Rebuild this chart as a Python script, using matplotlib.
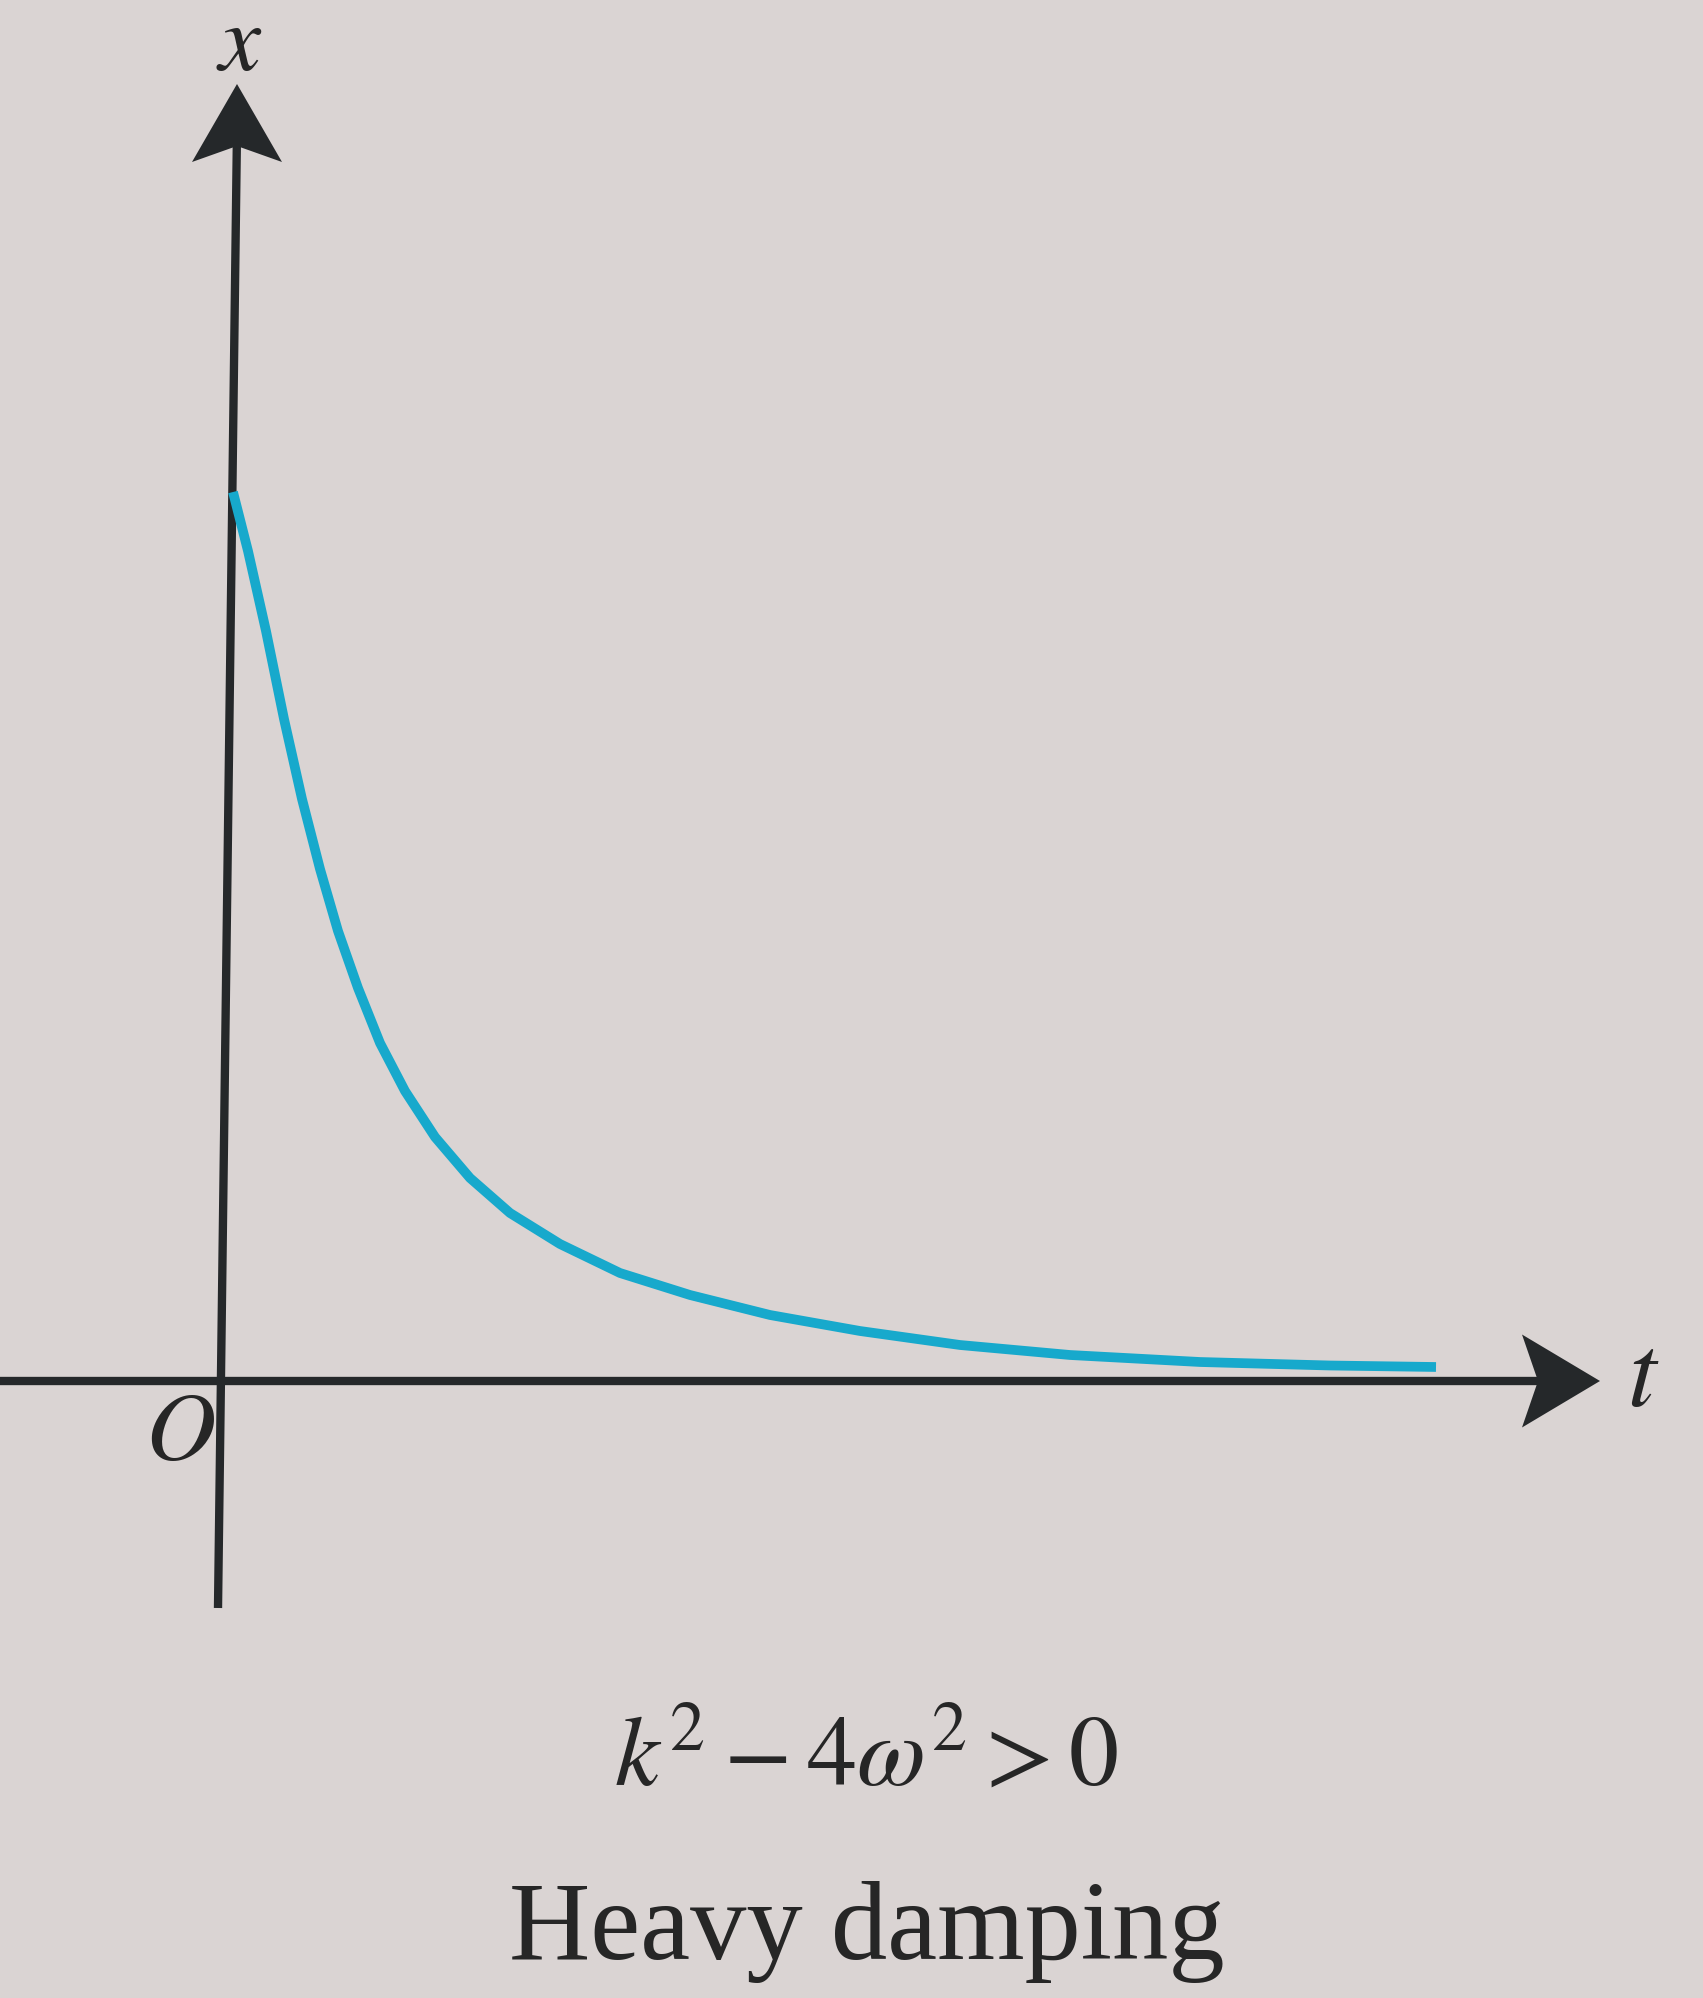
import matplotlib.pyplot as plt
from matplotlib.patches import Polygon

# curve (t, x), arbitrary units
t_vals = [0.03, 0.18, 0.36, 0.54, 0.72, 0.90, 1.08, 1.28, 1.50, 1.75, 2.05, 2.40,
          2.80, 3.30, 3.90, 4.60, 5.40, 6.30, 7.30, 8.40, 9.70, 11.00, 12.06]
x_vals = [8.89, 8.30, 7.50, 6.62, 5.82, 5.12, 4.50, 3.93, 3.38, 2.90, 2.44, 2.03,
          1.68, 1.37, 1.08, 0.86, 0.66, 0.50, 0.36, 0.26, 0.19, 0.155, 0.14]

condition = r'$k^2 - 4\omega^2 > 0$'
caption = 'Heavy damping'

bg = '#dad4d3'
axis_col = '#25282a'
curve_col = '#17a9cc'
text_col = '#262626'

plt.rcParams['mathtext.fontset'] = 'stix'

fig = plt.figure(figsize=(17.03, 19.99), dpi=100)
fig.patch.set_facecolor(bg)
ax = fig.add_axes([0, 0, 1, 1])
ax.set_facecolor(bg)
ax.set_xlim(-2.30, 14.73)
ax.set_ylim(-6.17, 13.82)
ax.axis('off')

# axes with arrow heads (the vertical one leans a little, as in the print)
ax.plot([-2.5, 13.2], [0, 0], color=axis_col, lw=6, solid_capstyle='butt')
ax.plot([-0.12, 0.07], [-2.27, 12.5], color=axis_col, lw=6, solid_capstyle='butt')
ax.add_patch(Polygon([[13.70, 0], [12.92, 0.465], [13.08, 0], [12.92, -0.465]],
                     closed=True, color=axis_col, lw=0))
ax.add_patch(Polygon([[0.07, 12.97], [0.52, 12.19], [0.07, 12.35], [-0.38, 12.19]],
                     closed=True, color=axis_col, lw=0))

# heavy damping curve
ax.plot(t_vals, x_vals, color=curve_col, lw=7, solid_capstyle='butt',
        solid_joinstyle='round')

ax.text(0.09, 13.12, r'$x$', fontsize=68, color=text_col,
        ha='center', va='baseline')
ax.text(14.13, -0.24, r'$t$', fontsize=74, color=text_col,
        ha='center', va='baseline')
ax.text(-0.50, -0.78, r'$O$', fontsize=70, color=text_col,
        ha='center', va='baseline')
ax.text(6.36, -4.03, condition, fontsize=72, color=text_col,
        ha='center', va='baseline')
ax.text(6.37, -5.77, caption, fontfamily='Liberation Serif', fontsize=81,
        color=text_col, ha='center', va='baseline')

fig.savefig('out.png', dpi=100, facecolor=bg)
